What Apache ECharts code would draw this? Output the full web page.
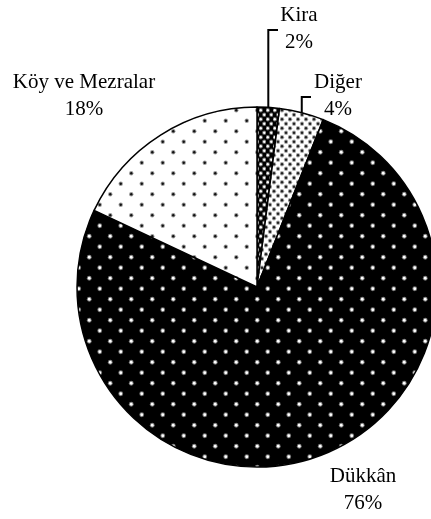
<!DOCTYPE html>
<html>
<head>
<meta charset="utf-8">
<script src="https://cdn.jsdelivr.net/npm/echarts@6/dist/echarts.min.js"></script>
<style>
  html, body { margin: 0; padding: 0; background: #fff; }
  #chart { width: 431px; height: 519px; }
</style>
</head>
<body>
<div id="chart"></div>
<script>
const categories = ['Kira', 'Diğer', 'Dükkân', 'Köy ve Mezralar'];
const shares = [2, 4, 76, 18];

// dotted fills, drawn into a small tile and repeated
function dotPattern(bg, dot, w, h, r, halo) {
  const c = document.createElement('canvas');
  c.width = w;
  c.height = h;
  const ctx = c.getContext('2d');
  ctx.fillStyle = bg;
  ctx.fillRect(0, 0, w, h);
  const pts = [[w / 4, h / 4], [(3 * w) / 4, (3 * h) / 4]];
  pts.forEach(([x, y]) => {
    if (halo) {
      ctx.fillStyle = halo;
      ctx.beginPath();
      ctx.arc(x, y, r + 1, 0, Math.PI * 2);
      ctx.fill();
    }
    ctx.fillStyle = dot;
    ctx.beginPath();
    ctx.arc(x, y, r, 0, Math.PI * 2);
    ctx.fill();
  });
  return { image: c, repeat: 'repeat' };
}

const fills = [
  dotPattern('#000', '#fff', 7, 9, 1.2, '#666'),
  dotPattern('#fff', '#222', 8, 9, 1.2, '#aaa'),
  dotPattern('#000', '#fff', 21, 21, 1.4, '#777'),
  dotPattern('#fff', '#111', 21, 21, 1.2, '#999'),
];

// label block centres and leader line elbows
const labelPos = [[299, 29], [338, 96], [363, 490], [84, 96]];
const elbows = [[30, 278], [97, 311], null, null];

const chart = echarts.init(document.getElementById('chart'));

chart.setOption({
  animation: false,
  series: [
    {
      type: 'pie',
      center: [257, 287],
      radius: 180,
      startAngle: 90,
      clockwise: true,
      avoidLabelOverlap: false,
      emphasis: { disabled: true },
      itemStyle: { borderColor: '#000', borderWidth: 1.5 },
      label: {
        show: true,
        position: 'outside',
        formatter: '{b}\n{d}%',
        fontFamily: 'Liberation Serif',
        fontSize: 21,
        lineHeight: 27,
        color: '#000',
        align: 'center',
        overflow: 'none',
      },
      labelLine: {
        show: true,
        lineStyle: { color: '#000', width: 2 },
      },
      labelLayout: (params) => {
        const i = params.dataIndex;
        const out = {
          x: labelPos[i][0],
          y: labelPos[i][1],
          align: 'center',
          verticalAlign: 'middle',
          width: 200,
          hideOverlap: false,
        };
        const e = elbows[i];
        if (e && params.labelLinePoints) {
          const s = params.labelLinePoints[0];
          out.labelLinePoints = [
            [s[0], s[1]],
            [s[0], e[0]],
            [e[1], e[0]],
          ];
        }
        return out;
      },
      data: categories.map((name, i) => ({
        name,
        value: shares[i],
        itemStyle: { color: fills[i] },
        labelLine: { show: elbows[i] !== null },
      })),
    },
  ],
});
</script>
</body>
</html>
